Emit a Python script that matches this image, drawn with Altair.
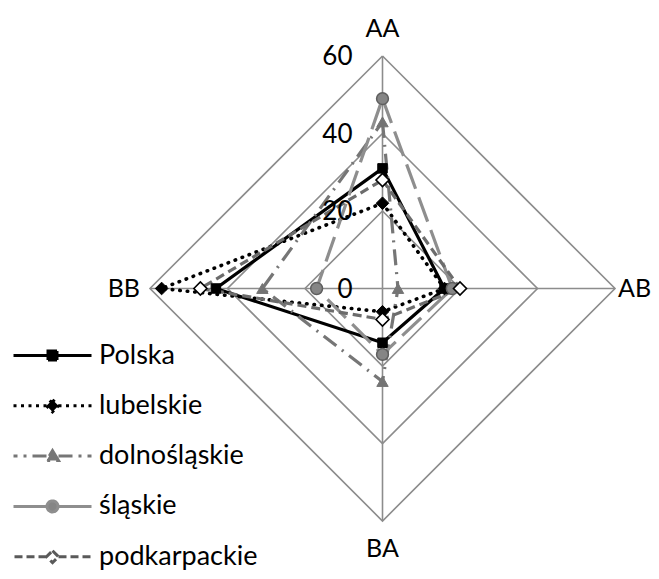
import altair as alt
import numpy as np
import pandas as pd

# ---- data ----
categories = ["AA", "AB", "BA", "BB"]
series = ["Polska", "lubelskie", "dolnośląskie", "śląskie", "podkarpackie"]
polska = [31, 16, 14, 43]
lubelskie = [22, 16, 6, 57]
dolnoslaskie = [43, 4, 24, 31]
slaskie = [49, 18, 17, 17]
podkarpackie = [28, 20, 8, 47]
series_values = [polska, lubelskie, dolnoslaskie, slaskie, podkarpackie]
tick_values = [0, 20, 40, 60]
grid_levels = [20, 40, 60]
r_max = 60

FONT = "Lato"
FS = 26
GRID = "#8c8c8c"

# AA at top, then clockwise
angles = [np.pi / 2 - i * np.pi / 2 for i in range(len(categories))]


def px(v, k):
    return float(v * np.cos(angles[k])), float(v * np.sin(angles[k]))


# series polygons (closed)
rows = []
for s, vals in zip(series, series_values):
    for o in range(len(categories) + 1):
        k = o % len(categories)
        x, y = px(vals[k], k)
        rows.append({"series": s, "cat": categories[k], "value": vals[k], "x": x, "y": y, "o": o})
df = pd.DataFrame(rows)

grid_rows = []
for lv in grid_levels:
    for o in range(len(categories) + 1):
        k = o % len(categories)
        x, y = px(lv, k)
        grid_rows.append({"level": lv, "x": x, "y": y, "o": o})
grid_df = pd.DataFrame(grid_rows)

spoke_rows = []
for k, c in enumerate(categories):
    x, y = px(r_max, k)
    spoke_rows.append({"cat": c, "x0": 0.0, "y0": 0.0, "x": x, "y": y})
spoke_df = pd.DataFrame(spoke_rows)

tick_df = pd.DataFrame({"x": [0.0] * len(tick_values), "y": [float(t) for t in tick_values],
                        "label": [str(t) for t in tick_values]})

sc = alt.Scale(domain=[-r_max, r_max], nice=False, zero=False)
X = alt.X("x:Q", scale=sc, axis=None)
Y = alt.Y("y:Q", scale=sc, axis=None)

# ---- styles ----
line_style = {
    "Polska": dict(stroke="#000000", strokeWidth=3.2),
    "lubelskie": dict(stroke="#000000", strokeWidth=3.6, strokeDash=[0.5, 7], strokeCap="round"),
    "dolnośląskie": dict(stroke="#767676", strokeWidth=3.2, strokeDash=[16, 7, 2, 7]),
    "śląskie": dict(stroke="#8e8e8e", strokeWidth=3.2, strokeDash=[26, 9]),
    "podkarpackie": dict(stroke="#6c6c6c", strokeWidth=3.2, strokeDash=[9, 5]),
}
point_style = {
    "Polska": dict(shape="square", size=90, fill="#000000", stroke="#000000", strokeWidth=1),
    "lubelskie": dict(shape="diamond", size=160, fill="#000000", stroke="#000000", strokeWidth=1),
    "dolnośląskie": dict(shape="triangle-up", size=130, fill="#747474", stroke="#747474", strokeWidth=1),
    "śląskie": dict(shape="circle", size=140, fill="#858585", stroke="#5e5e5e", strokeWidth=1.5),
    "podkarpackie": dict(shape="diamond", size=170, fill="#ffffff", stroke="#000000", strokeWidth=1.6),
}

layers = []
layers.append(alt.Chart(grid_df).mark_line(stroke=GRID, strokeWidth=1.6).encode(
    x=X, y=Y, detail="level:N", order="o:Q"))
layers.append(alt.Chart(spoke_df).mark_rule(stroke=GRID, strokeWidth=1.6).encode(
    x=X, y=Y, x2="x0:Q", y2="y0:Q"))

for s in series:
    sub = alt.Chart(df).transform_filter(alt.datum.series == s)
    layers.append(sub.mark_line(**line_style[s]).encode(x=X, y=Y, order="o:Q"))
for s in series:
    sub = alt.Chart(df).transform_filter((alt.datum.series == s) & (alt.datum.o < len(categories)))
    layers.append(sub.mark_point(filled=True, opacity=1, **point_style[s]).encode(x=X, y=Y))

layers.append(alt.Chart(tick_df).mark_text(align="right", baseline="middle", dx=-30, dy=1,
                                           font=FONT, fontSize=FS, color="#000000").encode(
    x=X, y=Y, text="label:N"))

cat_off = {"AA": dict(dx=0, dy=-27, align="center"),
           "AB": dict(dx=3, dy=0, align="left"),
           "BA": dict(dx=0, dy=28, align="center"),
           "BB": dict(dx=-10, dy=0, align="right")}
for c in categories:
    layers.append(alt.Chart(spoke_df).transform_filter(alt.datum.cat == c).mark_text(
        baseline="middle", font=FONT, fontSize=25, color="#000000", **cat_off[c]).encode(
        x=X, y=Y, text="cat:N"))

# ---- legend (legend-only layer, no marks drawn) ----
L = 3.9


def lp(marker, g):
    return f"{marker}M{-g},0H{-L}M{g},0H{L}"


legend_paths = [
    lp("M-0.45,-0.45H0.45V0.45H-0.45Z", 0.45),
    lp("M0,-0.6L0.6,0L0,0.6L-0.6,0Z", 0.6),
    lp("M0,-0.55L0.6,0.45L-0.6,0.45Z", 0.6),
    lp("M0.55,0A0.55,0.55 0 1,1 -0.55,0A0.55,0.55 0 1,1 0.55,0Z", 0.55),
    lp("M0,-0.6L0.6,0L0,0.6L-0.6,0Z", 0.6),
]
legend_stroke = ["#000000", "#000000", "#767676", "#8e8e8e", "#5a5a5a"]
legend_fill = ["#000000", "#000000", "#767676", "#858585", "#ffffff"]
legend_dash = [[1, 0], [3, 4.5], [14, 6, 3, 6], [1, 0], [8, 4]]

leg = alt.Legend(title=None, orient="none", legendX=-111, legendY=286, symbolSize=400,
                 symbolStrokeWidth=3, labelFont=FONT, labelFontSize=27, labelColor="#000000",
                 labelOffset=33, rowPadding=22.3, labelLimit=400, symbolOpacity=1)
ldf = pd.DataFrame({"series": series, "x": 0.0, "y": 0.0})
layers.append(alt.Chart(ldf).transform_filter("false").mark_point(
    opacity=1, size=400, strokeWidth=3).encode(
    x=X, y=Y,
    shape=alt.Shape("series:N", scale=alt.Scale(domain=series, range=legend_paths), legend=leg),
    stroke=alt.Stroke("series:N", scale=alt.Scale(domain=series, range=legend_stroke), legend=leg),
    fill=alt.Fill("series:N", scale=alt.Scale(domain=series, range=legend_fill), legend=leg),
    strokeDash=alt.StrokeDash("series:N", scale=alt.Scale(domain=series, range=legend_dash), legend=leg),
))

chart = alt.layer(*layers).properties(
    width=465, height=465,
    autosize=alt.AutoSizeParams(type="none"),
    padding={"left": 142, "top": 48, "right": 36, "bottom": 50},
).configure(font=FONT).configure_view(stroke=None, strokeWidth=0)

chart.save("out.html", embed_options={"renderer": "svg", "actions": False})
